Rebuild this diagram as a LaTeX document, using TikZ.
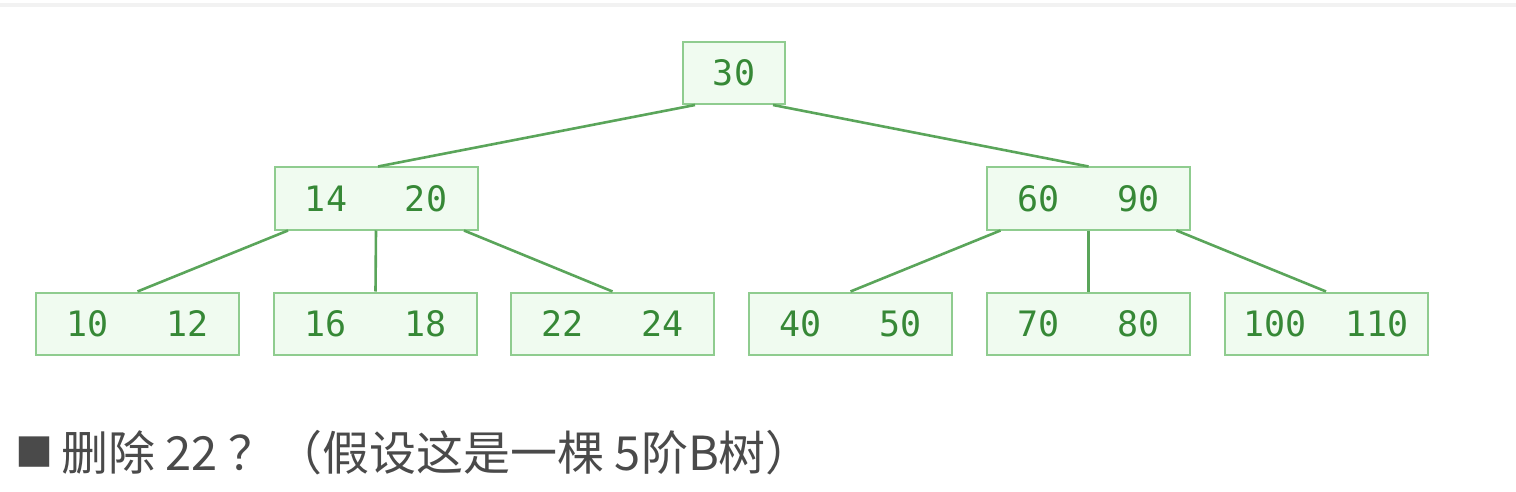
\documentclass[tikz,border=0pt]{standalone}
\usepackage{fontspec}
\setmonofont{DejaVu Sans Mono}
\newfontfamily\cjk{Noto Sans CJK SC}
\usetikzlibrary{calc}
\definecolor{boxborder}{HTML}{8FCC8F}
\definecolor{boxfill}{HTML}{F0FBF0}
\definecolor{keygreen}{HTML}{368836}
\definecolor{edgegreen}{HTML}{5AA55A}
\definecolor{titlegray}{HTML}{4A4A4A}
\definecolor{topline}{HTML}{F2F2F2}
\tikzset{
  bnode/.style={draw=boxborder, fill=boxfill, line width=2pt, minimum height=62pt, inner sep=0pt},
  onekey/.style={bnode, minimum width=102pt},
  twokey/.style={bnode, minimum width=203pt},
  keytext/.style={font=\ttfamily\fontsize{35}{35}\selectfont, text=keygreen, inner sep=0pt},
  edge/.style={draw=edgegreen, line width=2.6pt},
}
\newcommand{\twokeys}[4]{%
  \node[keytext] (#1a) at ($(#1)+(-#4,0)$) {#2};
  \node[keytext] (#1b) at ($(#1)+(#4,0)$) {#3};}
\begin{document}
\begin{tikzpicture}[x=1pt,y=-1pt]
\useasboundingbox (0,0) rectangle (1516,492);
\fill[topline] (0,3) rectangle (1516,7);
% edges (drawn first, under the boxes)
\node[onekey] (root) at (734,73) {};
\node[twokey] (n1) at (376,198.5) {};
\node[twokey] (n2) at (1088.5,198.5) {};
\node[twokey] (l1) at (137.5,323.5) {};
\node[twokey] (l2) at (375.5,323.5) {};
\node[twokey] (l3) at (612.5,323.5) {};
\node[twokey] (l4) at (850.5,323.5) {};
\node[twokey] (l5) at (1088.5,323.5) {};
\node[twokey] (l6) at (1326,323.5) {};
\draw[edge] ($(root.south)+(-39,0)$) -- ($(n1.north)+(2,0)$);
\draw[edge] ($(root.south)+(39,0)$) -- (n2.north);
\draw[edge] ($(n1.south)+(-88,0)$) -- (l1.north);
\draw[edge] (n1.south) -- (l2.north);
\draw[edge] ($(n1.south)+(88,0)$) -- (l3.north);
\draw[edge] ($(n2.south)+(-88,0)$) -- (l4.north);
\draw[edge] (n2.south) -- (l5.north);
\draw[edge] ($(n2.south)+(88,0)$) -- (l6.north);
% keys
\node[keytext] (rootk) at (root) {30};
\twokeys{n1}{14}{20}{50}
\twokeys{n2}{60}{90}{50}
\twokeys{l1}{10}{12}{50}
\twokeys{l2}{16}{18}{50}
\twokeys{l3}{22}{24}{50}
\twokeys{l4}{40}{50}{50}
\twokeys{l5}{70}{80}{50}
\twokeys{l6}{100}{110}{51}
% title
\node[anchor=base west, inner sep=0pt, font=\cjk\fontsize{38}{38}\selectfont, text=titlegray] (bullet) at (15,466) {■};
\node[anchor=base west, inner sep=0pt, font=\cjk\fontsize{47}{47}\selectfont, text=titlegray] (title) at (61,470) {删除 22 ？（假设这是一棵 5阶B树）};
\end{tikzpicture}
\end{document}
